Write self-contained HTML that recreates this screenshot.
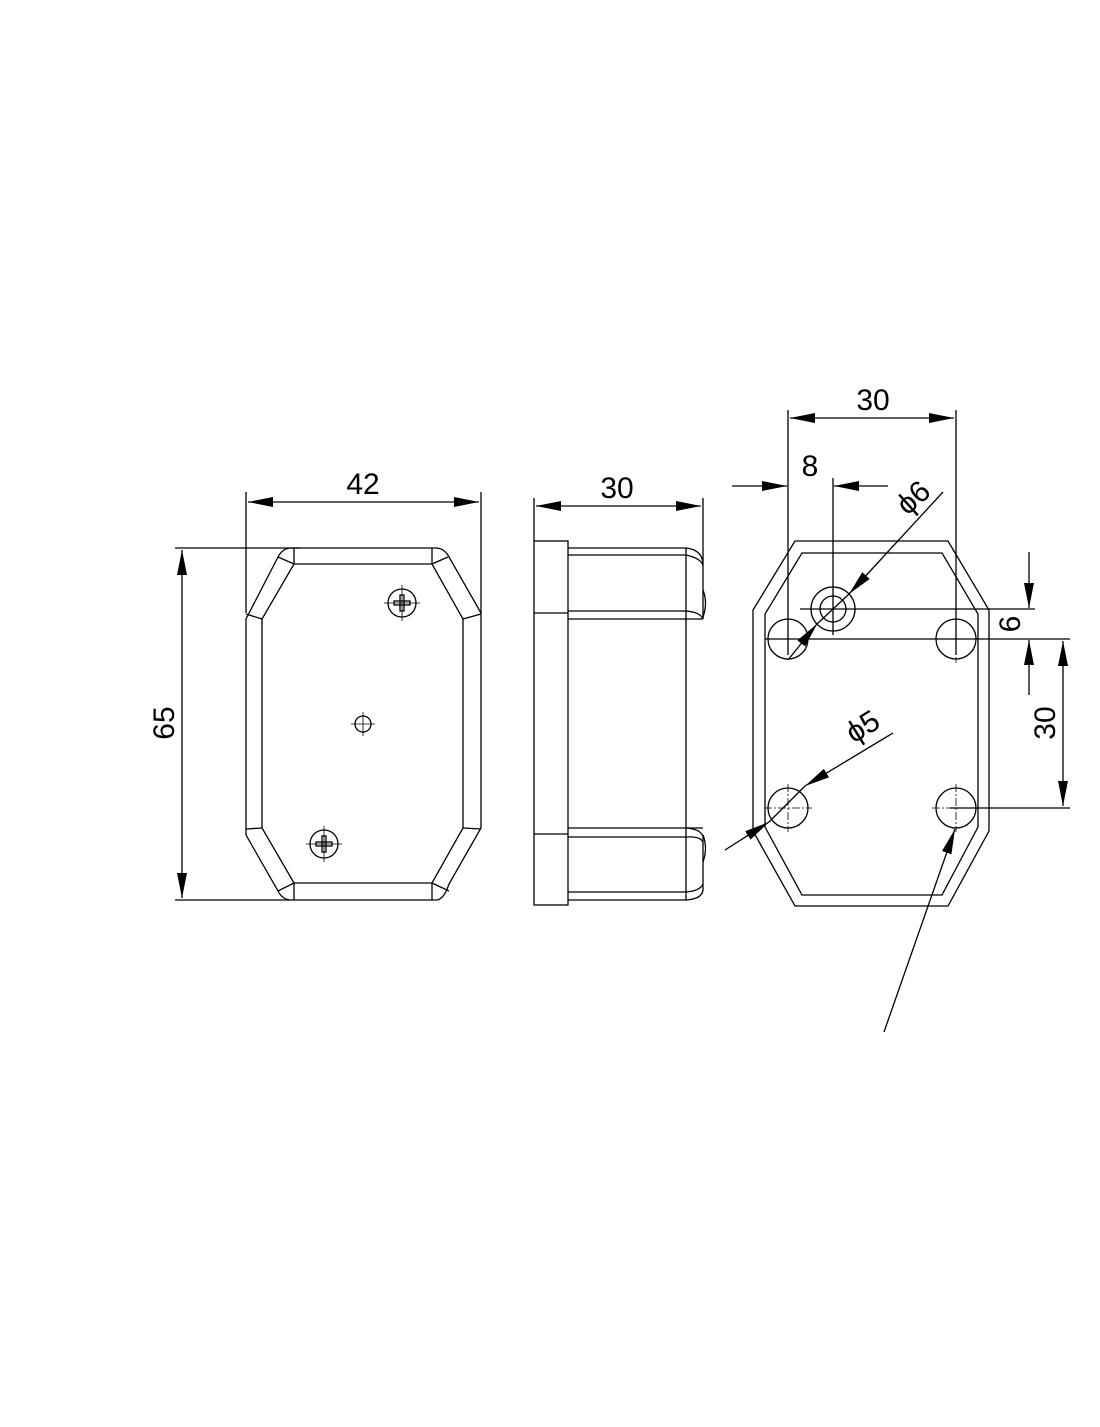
<!DOCTYPE html>
<html><head><style>html,body{margin:0;padding:0;background:#fff}</style></head><body>
<svg width="1100" height="1422" viewBox="0 0 1100 1422" xmlns="http://www.w3.org/2000/svg" font-family="Liberation Sans, sans-serif">
<defs>
<marker id="a" viewBox="0 0 10 4" refX="10" refY="2" markerWidth="26" markerHeight="10" markerUnits="userSpaceOnUse" orient="auto-start-reverse"><path d="M0,0 L10,2 L0,4z" fill="#000"/></marker>
</defs>
<g stroke="#000" stroke-width="1.3" fill="none">
<!-- FRONT VIEW -->
<line x1="246" y1="492" x2="246" y2="613"/><line x1="481" y1="492" x2="481" y2="613"/>
<line x1="248" y1="502" x2="479" y2="502" marker-start="url(#a)" marker-end="url(#a)"/>
<line x1="175" y1="548" x2="300" y2="548"/><line x1="175" y1="900" x2="290" y2="900"/>
<line x1="182" y1="550" x2="182" y2="898" marker-start="url(#a)" marker-end="url(#a)"/>
<path d="M290,548 L437,548 Q445,549 449,557 L481,613 L481,828 L449,884 Q444,899 437,900 L290,900 Q282,899 278,891 L246,835 L246,619 L278,557 Q282,549 290,548Z"/>
<path d="M294,564 L432,564 L463,619 L463,828 L432,883 L294,883 L262,828 L262,619Z"/>
<line x1="294" y1="548" x2="294" y2="564"/><line x1="432" y1="548" x2="432" y2="564"/>
<line x1="294" y1="883" x2="294" y2="900"/><line x1="432" y1="883" x2="432" y2="900"/>
<line x1="278" y1="557" x2="294" y2="564"/><line x1="448" y1="557" x2="432" y2="564"/>
<line x1="246" y1="614" x2="262" y2="619"/><line x1="481" y1="614" x2="463" y2="619"/>
<line x1="246" y1="829" x2="262" y2="828"/><line x1="481" y1="829" x2="463" y2="828"/>
<line x1="278" y1="891" x2="294" y2="883"/><line x1="449" y1="891" x2="432" y2="883"/>
<circle cx="402" cy="603" r="14"/><line x1="384" y1="603" x2="420" y2="603" stroke-width="0.8"/><line x1="402" y1="585" x2="402" y2="621" stroke-width="0.8"/>
<rect x="394" y="601" width="16" height="4"/><rect x="400" y="595" width="4" height="16"/>
<circle cx="324" cy="844" r="14"/><line x1="306" y1="844" x2="342" y2="844" stroke-width="0.8"/><line x1="324" y1="826" x2="324" y2="862" stroke-width="0.8"/>
<rect x="316" y="842" width="16" height="4"/><rect x="322" y="836" width="4" height="16"/>
<circle cx="363" cy="724" r="8"/><line x1="351" y1="724" x2="375" y2="724" stroke-width="0.8"/><line x1="363" y1="712" x2="363" y2="736" stroke-width="0.8"/>
<!-- SIDE VIEW -->
<line x1="534" y1="498" x2="534" y2="541"/><line x1="703" y1="498" x2="703" y2="565"/>
<line x1="536" y1="506" x2="701" y2="506" marker-start="url(#a)" marker-end="url(#a)"/>
<rect x="534" y="541" width="34" height="364"/>
<line x1="534" y1="613" x2="568" y2="613"/><line x1="534" y1="834" x2="568" y2="834"/>
<line x1="568" y1="548" x2="686" y2="548"/><line x1="568" y1="555" x2="686" y2="555"/>
<line x1="568" y1="611" x2="686" y2="611"/><line x1="568" y1="619" x2="703" y2="619"/>
<line x1="568" y1="828" x2="703" y2="828"/><line x1="568" y1="837" x2="686" y2="837"/>
<line x1="568" y1="892" x2="686" y2="892"/><line x1="568" y1="900" x2="686" y2="900"/>
<line x1="686" y1="548" x2="686" y2="900"/>
<path d="M686,548 Q703,550 703,565 L703,619"/><path d="M686,555 Q700,558 703,565"/>
<path d="M686,611 Q700,612 703,619"/><path d="M703,590 Q708,603 703,617"/>
<path d="M686,828 Q700,829 703,836 L703,890 Q702,899 686,900"/><path d="M686,892 Q700,891 703,884"/>
<path d="M686,837 Q700,836 703,842"/><path d="M703,835 Q708,848 703,862"/>
<!-- BACK VIEW -->
<line x1="788" y1="410" x2="788" y2="655"/><line x1="956" y1="410" x2="956" y2="655"/>
<line x1="790" y1="418" x2="954" y2="418" marker-start="url(#a)" marker-end="url(#a)"/>
<line x1="833" y1="478" x2="833" y2="635"/>
<line x1="732" y1="486" x2="787" y2="486" marker-end="url(#a)"/>
<line x1="888" y1="486" x2="834" y2="486" marker-end="url(#a)"/>
<path d="M795,541 L948,541 L989,610 L989,831 L948,906 L795,906 L753,831 L753,610Z"/>
<path d="M802,553 L942,553 L978,614 L978,827 L942,895 L802,895 L765,827 L765,614Z"/>
<circle cx="833" cy="609" r="22"/><circle cx="833" cy="609" r="13"/>
<circle cx="788" cy="639" r="20"/><circle cx="956" cy="639" r="20"/>
<circle cx="788" cy="808" r="20"/><circle cx="956" cy="808" r="20"/>
<line x1="800" y1="609" x2="1035" y2="609"/>
<line x1="765" y1="639" x2="1070" y2="639"/>
<line x1="950" y1="808" x2="1070" y2="808"/>
<g stroke-width="0.8" stroke-dasharray="8,2,2,2">
<line x1="764" y1="808" x2="812" y2="808"/><line x1="788" y1="784" x2="788" y2="832"/>
<line x1="932" y1="808" x2="980" y2="808"/><line x1="956" y1="784" x2="956" y2="832"/>
<line x1="956" y1="615" x2="956" y2="663"/>
</g>
<line x1="1029" y1="552" x2="1029" y2="608" marker-end="url(#a)"/>
<line x1="1029" y1="695" x2="1029" y2="640" marker-end="url(#a)"/>
<line x1="1063" y1="641" x2="1063" y2="806" marker-start="url(#a)" marker-end="url(#a)"/>
<line x1="943" y1="492" x2="849" y2="594" marker-end="url(#a)"/>
<line x1="788" y1="660" x2="817" y2="624" marker-end="url(#a)"/>
<line x1="817" y1="624" x2="849" y2="594"/>
<line x1="893" y1="733" x2="805" y2="786" marker-end="url(#a)"/>
<line x1="725" y1="850" x2="769" y2="822" marker-end="url(#a)"/>
<line x1="769" y1="822" x2="805" y2="786"/>
<line x1="884" y1="1032" x2="955" y2="829" marker-end="url(#a)"/>
</g>
<g font-size="30" fill="#000" text-anchor="middle" font-weight="300">
<text x="363" y="494">42</text>
<text x="617" y="498">30</text>
<text x="873" y="410">30</text>
<text x="810" y="476">8</text>
<text transform="translate(174,723) rotate(-90)">65</text>
<text transform="translate(1020,624) rotate(-90)">6</text>
<text transform="translate(1055,723) rotate(-90)">30</text>
<text transform="translate(920,505) rotate(-42)">ϕ6</text>
<text transform="translate(868,735) rotate(-32)">ϕ5</text>
</g>
</svg>
</body></html>
